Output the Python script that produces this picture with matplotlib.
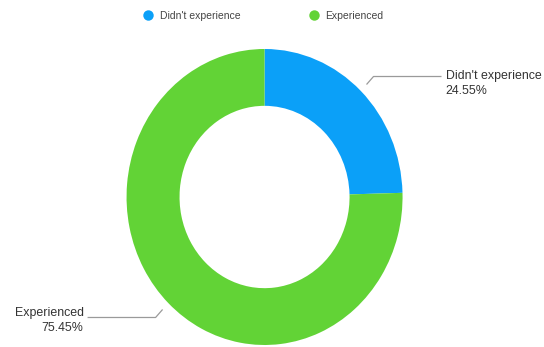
import numpy as np
import matplotlib.pyplot as plt
from matplotlib.lines import Line2D

plt.rcParams['font.family'] = ['Liberation Sans', 'DejaVu Sans']

labels = ["Didn't experience", "Experienced"]
shares = [24.55, 75.45]
colors = ['#0BA0F8', '#62D336']

fig = plt.figure(figsize=(5.44, 3.47), dpi=100)
ax = fig.add_axes([0, 0, 1, 1])

wedges, _ = ax.pie(shares, colors=colors, startangle=90, counterclock=False,
                   radius=1.0, wedgeprops=dict(width=0.384, linewidth=0))
ax.set_aspect('auto')
ax.set_xlim(-1.917, 2.025)
ax.set_ylim(-1.0135, 1.331)
ax.axis('off')

# leader lines + labels, anchored on each wedge's middle angle
sx = 1 / 138.0   # data units per pixel (x)
sy = 1 / 148.0   # data units per pixel (y)
for w, lab, val in zip(wedges, labels, shares):
    mid = np.deg2rad((w.theta1 + w.theta2) / 2)
    x0, y0 = 1.06 * np.cos(mid), 1.06 * np.sin(mid)
    side = 1 if x0 > 0 else -1
    up = 1 if y0 > 0 else -1
    x1, y1 = x0 + side * 7 * sx, y0 + up * 8 * sy
    x2 = x1 + side * 68 * sx
    ax.plot([x0, x1, x2], [y0, y1, y1], color='#9a9a9a', lw=0.9,
            solid_capstyle='butt')
    dy = 7 * sy if up > 0 else 3 * sy
    ax.text(x2 + side * 4 * sx, y1 - dy,
            f'{lab}\n{val:.2f}%', ha='left' if side > 0 else 'right',
            va='center', fontsize=8.9, color='#333333', linespacing=1.35,
            multialignment='left' if side > 0 else 'right')

handles = [Line2D([], [], ls='none', marker='o', markersize=7.5,
                  markerfacecolor=c, markeredgewidth=0) for c in colors]
fig.legend(handles, labels, loc='center', bbox_to_anchor=(0.484, 0.954),
           ncol=2, frameon=False, fontsize=7.5, handlelength=1.0,
           handletextpad=0.65, columnspacing=6.5, labelcolor='#444444')

fig.savefig('out.png', dpi=100, facecolor='white')
